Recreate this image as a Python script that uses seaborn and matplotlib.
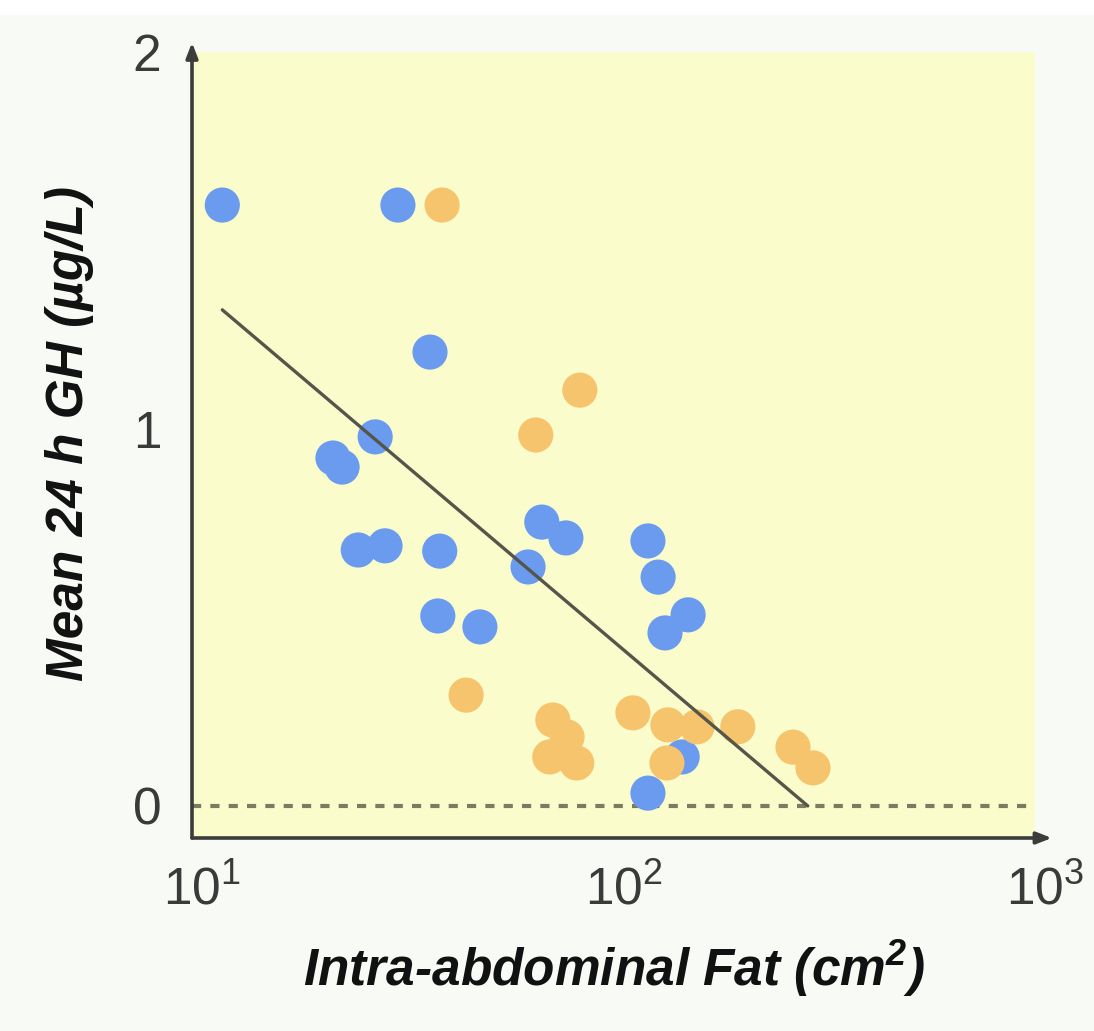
import numpy as np
import pandas as pd
import matplotlib
matplotlib.use("Agg")
from matplotlib import pyplot as plt
import matplotlib.transforms as mtransforms
import seaborn as sns

sns.set_style("white")
plt.rcParams["font.family"] = ["Liberation Sans", "DejaVu Sans"]
plt.rcParams["mathtext.fontset"] = "custom"
plt.rcParams["mathtext.rm"] = "Liberation Sans"
plt.rcParams["mathtext.bf"] = "Liberation Sans:style=italic:weight=bold"

# blue group
blue_fat = [11.8, 30.8, 36.7, 27.2, 21.6, 22.7, 24.8, 28.7, 38.7, 38.3,
            48.2, 62.7, 67.6, 77.1, 120.7, 127.6, 132.5, 150.3, 145.5, 120.7]
blue_gh = [1.594, 1.594, 1.204, 0.979, 0.923, 0.899, 0.679, 0.690, 0.676, 0.504,
           0.475, 0.634, 0.753, 0.711, 0.703, 0.607, 0.459, 0.507, 0.130, 0.034]
# orange group
orange_fat = [39.2, 83.2, 65.4, 44.7, 71.8, 77.6, 70.6, 81.8, 111.2, 134.6,
              157.8, 197.2, 133.9, 266.6, 297.4]
orange_gh = [1.594, 1.103, 0.984, 0.294, 0.228, 0.183, 0.130, 0.114, 0.247, 0.215,
             0.210, 0.210, 0.114, 0.156, 0.101]
# regression line end points
fit_fat = [11.8, 289]
fit_gh = [1.316, 0.0]

x_ticks = [10, 100, 1000]
y_ticks = [0, 1, 2]

df = pd.DataFrame({
    "fat": blue_fat + orange_fat,
    "gh": blue_gh + orange_gh,
    "group": ["blue"] * len(blue_fat) + ["orange"] * len(orange_fat),
})

fig = plt.figure(figsize=(10.94, 10.31), dpi=100, facecolor="#f7faf5")
ax = fig.add_axes([192 / 1094, 1 - 838 / 1031, (1035 - 192) / 1094, (838 - 52) / 1031])
ax.set_facecolor("#fafccb")
ax.set_xscale("log")
ax.set_xlim(10, 1000)
ax.set_ylim(-0.085, 2.0)

# white strip at the very top of the slide
fig.patches.append(plt.Rectangle((0, 1 - 15 / 1031), 1, 15 / 1031, transform=fig.transFigure,
                                 facecolor="white", edgecolor="none", zorder=0))

ax.axhline(0, color="#7b7b62", lw=3, ls=(0, (2.2, 2.2)), zorder=1)

sns.scatterplot(data=df, x="fat", y="gh", hue="group",
                palette={"blue": "#6a9bef", "orange": "#f6c46c"},
                s=640, edgecolor="none", legend=False, ax=ax, zorder=2)
sns.lineplot(x=fit_fat, y=fit_gh, color="#55554a", lw=2.4, ax=ax, zorder=3)

for s in ax.spines.values():
    s.set_visible(False)
ax.annotate("", xy=(1.02, 0), xytext=(0, 0), xycoords="axes fraction",
            arrowprops=dict(arrowstyle="-|>,head_length=0.9,head_width=0.35",
                            color="#3c3c3c", lw=2.6, shrinkA=0, shrinkB=0))
ax.annotate("", xy=(0, 1.012), xytext=(0, 0), xycoords="axes fraction",
            arrowprops=dict(arrowstyle="-|>,head_length=0.9,head_width=0.35",
                            color="#3c3c3c", lw=2.6, shrinkA=0, shrinkB=0))

ax.set_xticks(x_ticks)
ax.set_yticks(y_ticks)
ax.minorticks_off()
ax.tick_params(axis="both", length=0, labelsize=37, labelcolor="#3a3a3a")
ax.tick_params(axis="x", pad=20)
ax.tick_params(axis="y", pad=22)
ax.set_yticklabels([str(v) for v in y_ticks])
offset = mtransforms.ScaledTranslation(10 / 100, 0, fig.dpi_scale_trans)
for lab in ax.get_xticklabels():
    lab.set_transform(lab.get_transform() + offset)

ax.set_xlabel(r"Intra-abdominal Fat (cm$^{\mathbf{2}}$)", fontsize=37,
              fontweight="bold", fontstyle="italic", color="#111111", labelpad=16)
ax.set_ylabel("Mean 24 h GH (µg/L)", fontsize=37, fontweight="bold",
              fontstyle="italic", color="#111111", labelpad=28)
ax.yaxis.label.set_y(0.515)
ax.grid(False)

fig.savefig("out.png", dpi=100, facecolor=fig.get_facecolor())
